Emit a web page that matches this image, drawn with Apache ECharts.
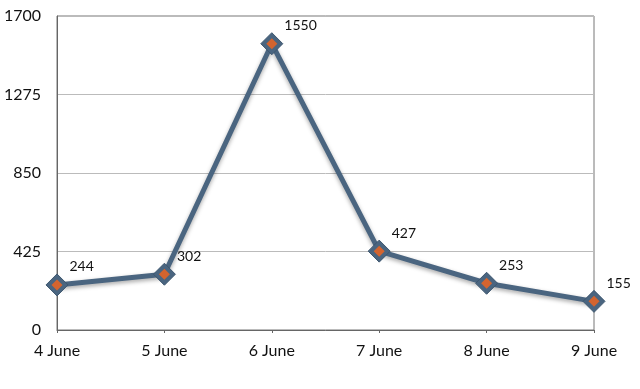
<!DOCTYPE html>
<html><head><meta charset="utf-8">
<script src="https://cdn.jsdelivr.net/npm/echarts@6/dist/echarts.min.js"></script>
<style>html,body{margin:0;padding:0;background:#fff}#c{width:640px;height:389px}</style>
</head><body><div id="c"></div>
<script>
const categories = ['4 June','5 June','6 June','7 June','8 June','9 June'];
const values = [244, 302, 1550, 427, 253, 155];
const yTicks = [0, 425, 850, 1275, 1700];

const chart = echarts.init(document.getElementById('c'));
chart.setOption({
  animation: false,
  grid: {left: 57, right: 46, top: 16, bottom: 59, show: true, borderColor: '#777', borderWidth: 1},
  xAxis: {
    type: 'category', data: categories, boundaryGap: false,
    axisLine: {lineStyle: {color: '#666', width: 1}},
    axisTick: {show: true, length: 3, inside: false, lineStyle: {color: '#666'}},
    axisLabel: {color: '#111', fontFamily: 'Lato', fontSize: 16, margin: 13},
    splitLine: {show: false}
  },
  yAxis: {
    type: 'value', min: yTicks[0], max: yTicks[yTicks.length-1], interval: yTicks[1]-yTicks[0],
    axisLine: {show: true, lineStyle: {color: '#666'}},
    axisTick: {show: false},
    axisLabel: {color: '#111', fontFamily: 'Lato', fontSize: 16, margin: 16, formatter: v => String(v)},
    splitLine: {lineStyle: {color: '#bbb', width: 1}}
  },
  series: [
    {
      type: 'line', data: values, symbol: 'diamond', symbolSize: 22,
      lineStyle: {color: '#4a6580', width: 5, shadowColor: 'rgba(0,0,0,0.35)', shadowBlur: 4, shadowOffsetY: 2},
      itemStyle: {color: '#4a6580', borderColor: '#3d566e', borderWidth: 1},
      label: {show: true, position: 'right', offset: [-1, -18], distance: 2, color: '#111', fontFamily: 'Lato', fontSize: 14},
      z: 2
    },
    {
      type: 'scatter', data: values, symbol: 'diamond', symbolSize: 11,
      itemStyle: {color: '#f5641a'}, z: 3, silent: true
    }
  ]
});
</script></body></html>
